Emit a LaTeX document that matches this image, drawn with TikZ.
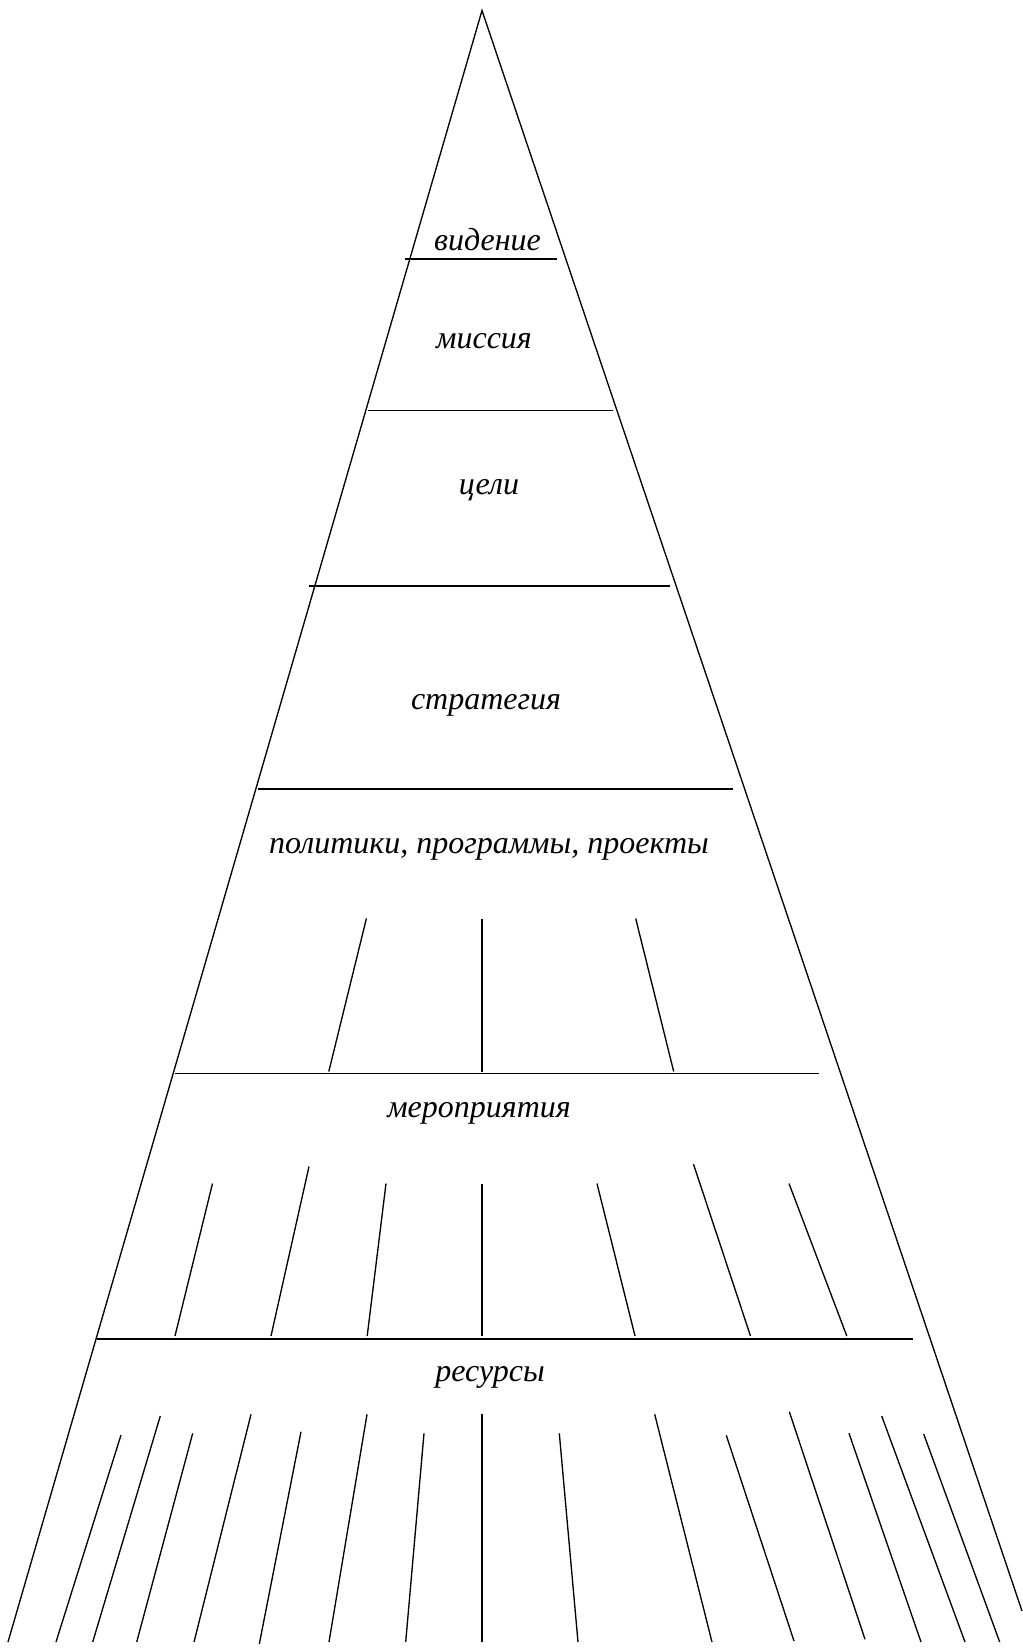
\documentclass[tikz,border=0pt]{standalone}
\usepackage{fontspec}
\setmainfont{Liberation Serif}
\usepackage{tikz}
\usetikzlibrary{positioning}
\tikzset{
  edge/.style={line width=1pt},
  tier/.style={line width=1.2pt},
  tick/.style={line width=1pt},
  lbl/.style={anchor=base, inner sep=0pt, font=\fontsize{24}{28}\selectfont\itshape}
}

\begin{document}
\begin{tikzpicture}[x=0.75pt, y=-0.75pt]
  \useasboundingbox (0,0) rectangle (1022,1650);
  % pyramid
  \coordinate (apex) at (482,10.5);
  \coordinate (baseL) at (8,1642);
  \coordinate (baseR) at (1022,1611);
  \draw[edge] (baseL) -- (apex) -- (baseR);
  % tiers
  \foreach \xa/\xb/\y in {405/557/259, 368/613/410.3, 309/670/585.7,
      258/733/788.7, 174.6/819/1073.5, 96.8/912.7/1338.8}
    {\draw[tier] (\xa,\y) -- (\xb,\y);}
  % labels
  \node[lbl] (vision)     at (487.5,250)  {видение};
  \node[lbl] (mission)    at (484,348)    {миссия};
  \node[lbl] (goals)      at (489,494)    {цели};
  \node[lbl] (strategy)   at (486,709)    {стратегия};
  \node[lbl] (policies)   at (489,853)    {политики, программы, проекты};
  \node[lbl] (activities) at (479,1117)   {мероприятия};
  \node[lbl] (resources)  at (490,1381)   {ресурсы};
  % branches under the policies
  \foreach \xa/\ya/\xb/\yb in {366.4/918.5/328.8/1071.5, 482/918.5/482/1071.5,
      635.7/918.5/673.7/1071.5}
    {\draw[tick] (\xa,\ya) -- (\xb,\yb);}
  % branches under the activities
  \foreach \xa/\ya/\xb/\yb in {212.5/1183.5/175/1336, 309/1166.5/271/1336,
      386/1183.5/367.2/1336, 482/1183.5/482/1336, 597/1183.5/635/1336,
      693.5/1164.2/750.5/1336, 789/1183.5/846.8/1336}
    {\draw[tick] (\xa,\ya) -- (\xb,\yb);}
  % branches under the resources
  \foreach \xa/\ya/\xb/\yb in {121/1435/56/1642, 160.3/1416/92.7/1642,
      192.7/1433.3/136.7/1642, 251/1414.3/194/1642, 301/1431.7/259.3/1644,
      367/1414.3/329/1642, 424/1433.3/405.7/1642, 482/1414.3/482/1642,
      559.3/1433.3/578/1642, 654.7/1414.3/712/1642, 726.3/1435.3/794/1641,
      789.3/1411.7/865/1639.3, 849/1433.3/921/1642, 881.7/1416/965/1642,
      923.7/1434/999.7/1642}
    {\draw[tick] (\xa,\ya) -- (\xb,\yb);}
\end{tikzpicture}
\end{document}
